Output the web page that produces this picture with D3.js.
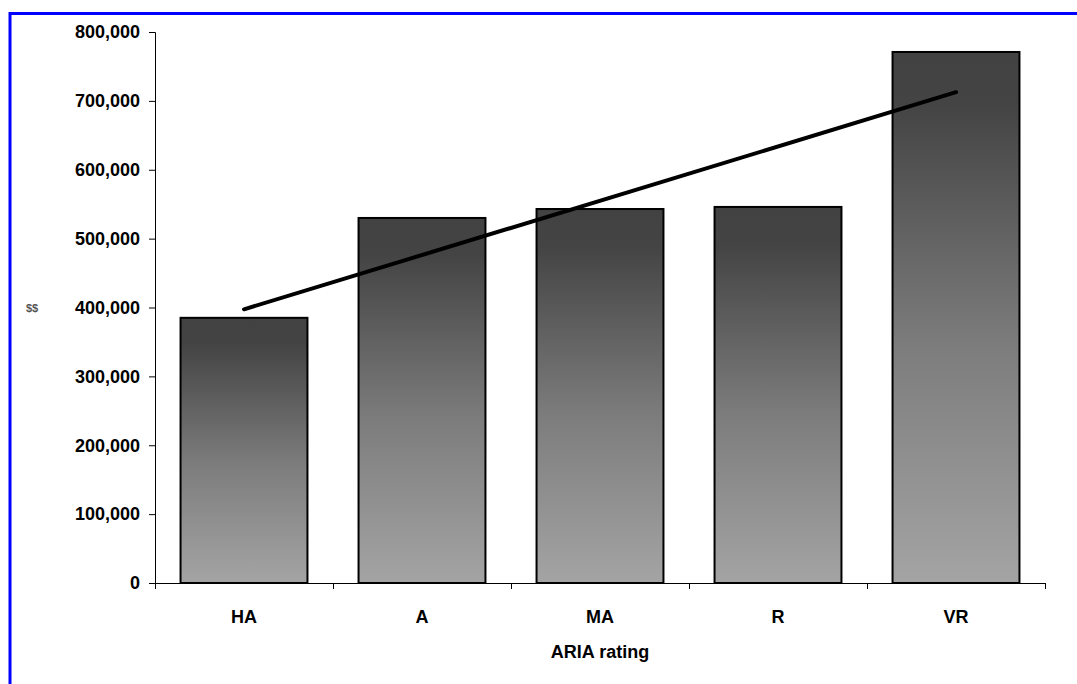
<!DOCTYPE html>
<html>
<head>
<meta charset="utf-8">
<script src="https://cdn.jsdelivr.net/npm/d3@7"></script>
<style>
  html, body { margin: 0; padding: 0; background: #fff; }
  svg { display: block; }
  text { font-family: "Liberation Sans", Arial, sans-serif; font-weight: bold; }
</style>
</head>
<body>
<svg id="chart" width="1077" height="684"></svg>
<script>
// ARIA rating categories and their totals
const categories = ["HA", "A", "MA", "R", "VR"];
const values = [385000, 530000, 543000, 546000, 771000];
const yTicks = [0, 100000, 200000, 300000, 400000, 500000, 600000, 700000, 800000];
const xTitle = "ARIA rating";
const yTitle = "$$";

const svg = d3.select("#chart");

// plot area
const plotLeft = 155, plotRight = 1045, plotTop = 32, plotBottom = 583;

const x = d3.scaleBand()
  .domain(categories)
  .range([plotLeft, plotRight])
  .paddingInner(0.287)
  .paddingOuter(0.1435);

const y = d3.scaleLinear()
  .domain([0, 800000])
  .range([plotBottom, plotTop]);

// frame around the chart (runs off the right and bottom edges)
svg.append("rect")
  .attr("x", 10).attr("y", 13.5)
  .attr("width", 1200).attr("height", 800)
  .attr("fill", "none")
  .attr("stroke", "#0000ff")
  .attr("stroke-width", 3);

// vertical grey gradient for the bars
const defs = svg.append("defs");
const grad = defs.append("linearGradient")
  .attr("id", "barFill")
  .attr("x1", 0).attr("y1", 0).attr("x2", 0).attr("y2", 1);
grad.append("stop").attr("offset", 0).attr("stop-color", "#424242");
grad.append("stop").attr("offset", 0.1).attr("stop-color", "#444444");
grad.append("stop").attr("offset", 0.55).attr("stop-color", "#7c7c7c");
grad.append("stop").attr("offset", 1).attr("stop-color", "#a4a4a4");

// bars
svg.append("g")
  .selectAll("rect")
  .data(categories)
  .join("rect")
  .attr("x", d => x(d))
  .attr("y", (d, i) => y(values[i]))
  .attr("width", x.bandwidth())
  .attr("height", (d, i) => y(0) - y(values[i]))
  .attr("fill", "url(#barFill)")
  .attr("stroke", "#000")
  .attr("stroke-width", 2);

// y axis
const yAxis = svg.append("g")
  .attr("transform", `translate(${plotLeft},0)`)
  .call(d3.axisLeft(y)
    .tickValues(yTicks)
    .tickFormat(d3.format(","))
    .tickSize(6)
    .tickPadding(9));
yAxis.select(".domain").attr("stroke", "#000").attr("stroke-width", 1);
yAxis.selectAll(".tick line").attr("stroke", "#000");
yAxis.selectAll(".tick text")
  .attr("fill", "#000")
  .style("font-size", "18px")
  .style("font-family", "'Liberation Sans', Arial, sans-serif")
  .style("font-weight", "bold");

// x axis: ticks sit on category boundaries
const boundaries = categories.map(c => x(c) - x.step() * x.paddingInner() / 2);
boundaries.push(plotRight);
svg.append("line")
  .attr("x1", plotLeft).attr("x2", plotRight)
  .attr("y1", plotBottom + 0.5).attr("y2", plotBottom + 0.5)
  .attr("stroke", "#000");
svg.append("g")
  .selectAll("line")
  .data(boundaries)
  .join("line")
  .attr("x1", d => Math.round(d) + 0.5).attr("x2", d => Math.round(d) + 0.5)
  .attr("y1", plotBottom).attr("y2", plotBottom + 6)
  .attr("stroke", "#000");

svg.append("g")
  .selectAll("text")
  .data(categories)
  .join("text")
  .attr("x", d => x(d) + x.bandwidth() / 2)
  .attr("y", plotBottom + 40)
  .attr("text-anchor", "middle")
  .style("font-size", "18px")
  .text(d => d);

// axis titles
svg.append("text")
  .attr("x", (plotLeft + plotRight) / 2)
  .attr("y", 658)
  .attr("text-anchor", "middle")
  .style("font-size", "18px")
  .text(xTitle);

svg.append("text")
  .attr("x", 32)
  .attr("y", 312)
  .attr("text-anchor", "middle")
  .attr("fill", "#555")
  .style("font-size", "11px")
  .text(yTitle);

// linear trend line fitted to the bar values
const n = values.length;
const xs = d3.range(1, n + 1);
const mx = d3.mean(xs), my = d3.mean(values);
const slope = d3.sum(xs, (xi, i) => (xi - mx) * (values[i] - my)) / d3.sum(xs, xi => (xi - mx) ** 2);
const icpt = my - slope * mx;
const trend = categories.map((c, i) => [x(c) + x.bandwidth() / 2, y(icpt + slope * xs[i])]);

svg.append("path")
  .datum([trend[0], trend[n - 1]])
  .attr("d", d3.line())
  .attr("fill", "none")
  .attr("stroke", "#000")
  .attr("stroke-width", 4)
  .attr("stroke-linecap", "round");
</script>
</body>
</html>
